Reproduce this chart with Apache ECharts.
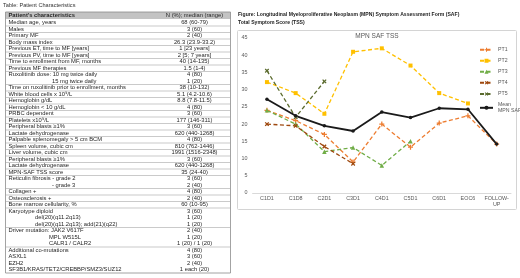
<!DOCTYPE html>
<html><head><meta charset="utf-8">
<script src="https://cdn.jsdelivr.net/npm/echarts@6/dist/echarts.min.js"></script>
<style>html,body{margin:0;padding:0;background:#fff}#c{width:520px;height:278px}</style>
</head><body><div id="c"></div>
<script>
// ---------- DATA ----------
const categories = ['C1D1','C1D8','C2D1','C3D1','C4D1','C5D1','C6D1','EOC6','FOLLOW-\nUP'];
const pt1  = [24, 21, 17, 9, 20, 13.3, 20.3, 22.4, 14.2];
const pt2  = [32.2, 29, 23, 41, 42, 37, 29, 26, null];
const pt3  = [24, 20, 12, 13.2, 8, 15, null, null, null];
const pt4  = [20, 19.5, 13.5, 8.5, null, null, null, null, null];
const pt5  = [35.5, 22, 32.4, null, null, null, null, null, null];
const meanTss = [27.2, 22.4, 19.5, 18, 23.5, 21.9, 24.6, 24.3, 14.2];
const seriesNames = ['PT1','PT2','PT3','PT4','PT5','Mean\nMPN SAF'];
const yTicks = [0, 45, 5];

const tableTitle = 'Table: Patient Characteristics';
const tableHeader = ["Patient's characteristics", 'N (%); median (range)'];
const tableLabels = [
 'Median age, years','Males','Primary MF','Body mass index',
 'Previous ET, time to MF [years]','Previous PV, time to MF [years]',
 'Time to enrollment from MF, months','Previous MF therapies',
 'Ruxolitinib dose: 10 mg twice daily','15 mg twice daily',
 'Time on ruxolitinib prior to enrollment, months','White blood cells x 10\u2079/L',
 'Hemoglobin g/dL','Hemoglobin < 10 g/dL','PRBC dependent','Platelets x10\u2079/L',
 'Peripheral blasts \u22651%','Lactate dehydrogenase','Palpable splenomegaly > 5 cm BCM',
 'Spleen volume, cubic cm','Liver volume, cubic cm','Peripheral blasts \u22651%',
 'Lactate dehydrogenase','MPN-SAF TSS score','Reticulin fibrosis - grade 2','- grade 3',
 'Collagen +','Osteosclerosis +','Bone marrow cellularity, %','Karyotype diploid',
 'del(20)(q11.2q13)','del(20)(q11.2q13); add(21)(q22)','Driver mutation: JAK2 V617F',
 'MPL W515L','CALR1 / CALR2','Additional co-mutations','ASXL1','EZH2',
 'SF3B1/KRAS/TET2/CREBBP/SMZ3/SUZ12'
];
const tableValues = [
 '68 (60-79)','3 (60)','2 (40)','26.3 (23.9-33.2)','1 [23 years]','2 [5; 7 years]',
 '40 (14-135)','1.5 (1-4)','4 (80)','1 (20)','38 (10-132)','5.1 (4.2-10.6)',
 '8.8 (7.8-11.5)','4 (80)','3 (60)','177 (146-311)','3 (60)','620 (440-1268)',
 '4 (80)','810 (762-1446)','1991 (1516-2348)','3 (60)','620 (440-1268)','35 (24-40)',
 '3 (60)','2 (40)','4 (80)','2 (40)','60 (10-95)','3 (60)','1 (20)','1 (20)',
 '2 (40)','1 (20)','1 (20) / 1 (20)','4 (80)','3 (60)','2 (40)','1 each (20)'
];
const figCaption = ['Figure: Longitudinal Myeloproliferative Neoplasm (MPN) Symptom Assessment Form (SAF)',
                    'Total Symptom Score (TSS)'];
const chartTitle = 'MPN SAF TSS';

// ---------- LAYOUT ----------
const FONT = '"Liberation Sans", Arial, sans-serif';
const indentX = {9: 52, 25: 52, 30: 35, 31: 35, 33: 49, 34: 49};
const noLineAfter = new Set([8, 24, 29, 30, 32, 33, 35, 36, 37]);
const T = {x0: 5.5, x1: 230.5, y0: 12, hdrH: 7, row0: 19.5, pitch: 6.5, labelX: 8.5, valX: 194.5};

const g = [];
function txt(s, x, y, o) {
  o = o || {};
  g.push({type:'text', x:x, y:y, silent:true, z: 10, style:{text:s, fontSize:o.fs||5.8, fontFamily:FONT,
    fontWeight:o.fw||'normal', fill:o.c||'#262626', textAlign:o.al||'left', textVerticalAlign:'middle',
    align:o.al||'left', verticalAlign:'middle'}});
}
txt(tableTitle, 3, 5.5, {fs:5.6, c:'#333'});
const nRows = tableLabels.length;
const tBottom = T.row0 + nRows * T.pitch;
g.push({type:'rect', shape:{x:T.x0, y:T.y0, width:T.x1-T.x0, height:T.hdrH}, style:{fill:'#c3c3c3'}, z:1});
g.push({type:'rect', shape:{x:T.x0, y:T.y0, width:T.x1-T.x0, height:tBottom-T.y0}, style:{fill:'none', stroke:'#8c8c8c', lineWidth:0.8}, z:2});
txt(tableHeader[0], T.labelX, T.y0 + T.hdrH/2, {fw:'bold'});
txt(tableHeader[1], T.valX, T.y0 + T.hdrH/2, {al:'center'});
tableLabels.forEach(function(lab, i){
  const cy = T.row0 + (i + 0.5) * T.pitch;
  txt(lab, indentX[i] !== undefined ? indentX[i] : T.labelX, cy);
  txt(tableValues[i], T.valX, cy, {al:'center'});
  if (i < nRows - 1 && !noLineAfter.has(i)) {
    const ly = T.row0 + (i + 1) * T.pitch;
    g.push({type:'line', shape:{x1:T.x0, y1:ly, x2:T.x1, y2:ly}, style:{stroke:'#a6a6a6', lineWidth:0.6}, z:2});
  }
});

// figure caption and frame
txt(figCaption[0], 238, 15, {fs:5.1, fw:'bold', c:'#222'});
txt(figCaption[1], 238, 22.5, {fs:5.1, fw:'bold', c:'#222'});
g.push({type:'rect', shape:{x:237.5, y:30.5, width:279, height:179, r:1}, style:{fill:'none', stroke:'#d4d4d4', lineWidth:1}, z:0});
txt(chartTitle, 377, 36, {fs:6.5, c:'#595959', al:'center'});

const dash = [4, 2.5];
function mk(name, data, color, symbol, size, rot, lineType, width) {
  return {name:name, type:'line', data:data, symbol:symbol, symbolSize:size, symbolRotate:rot||0,
    showSymbol:true, connectNulls:false, z:3,
    lineStyle:{color:color, width:width||1.3, type:lineType||dash},
    itemStyle:{color:color, borderWidth:0}};
}
const plus = 'path://M3,0H5V3H8V5H5V8H3V5H0V3H3Z';
const chart = echarts.init(document.getElementById('c'), null, {renderer:'canvas'});
chart.setOption({
  animation:false,
  backgroundColor:'#fff',
  graphic: g,
  grid:{left:252.6, right:9, top:38, bottom:85, containLabel:false},
  legend:{orient:'vertical', left:474, top:42, itemWidth:13, itemHeight:5, itemGap:5.5,
    textStyle:{fontSize:5.2, color:'#595959', fontFamily:FONT, lineHeight:5.5}, data:seriesNames},
  xAxis:{type:'category', data:categories, boundaryGap:true,
    axisLine:{lineStyle:{color:'#d9d9d9', width:1}}, axisTick:{show:false},
    axisLabel:{interval:0, fontSize:5.4, color:'#595959', fontFamily:FONT, margin:3, lineHeight:6}},
  yAxis:{type:'value', min:yTicks[0], max:yTicks[1], interval:yTicks[2],
    axisLine:{show:false}, axisTick:{show:false}, splitLine:{show:false},
    axisLabel:{fontSize:5.4, color:'#595959', fontFamily:FONT, margin:5}},
  series:[
    mk(seriesNames[0], pt1, '#ED7D31', plus, 5, 0),
    mk(seriesNames[1], pt2, '#FFC000', 'rect', 4, 0),
    mk(seriesNames[2], pt3, '#70AD47', 'triangle', 4.5, 0),
    mk(seriesNames[3], pt4, '#9E480E', plus, 5, 45),
    mk(seriesNames[4], pt5, '#5B6B2E', plus, 5, 45),
    mk(seriesNames[5], meanTss, '#1a1a1a', 'circle', 3.5, 0, 'solid', 1.8)
  ]
});
</script></body></html>
